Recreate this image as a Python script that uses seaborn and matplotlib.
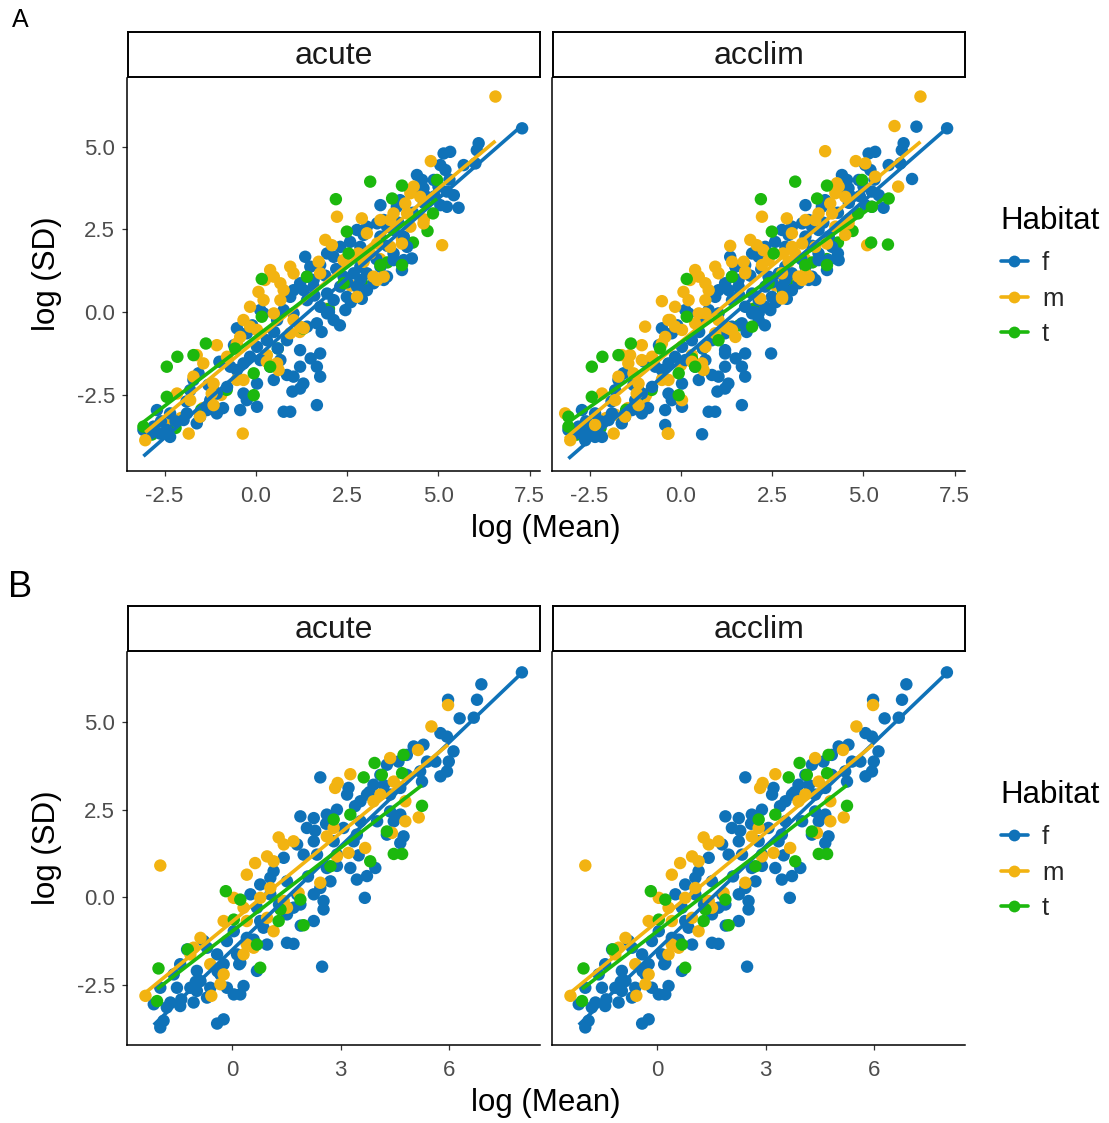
import numpy as np
import pandas as pd
import matplotlib
matplotlib.use("Agg")
import matplotlib.pyplot as plt
from matplotlib.lines import Line2D
import seaborn as sns

# ---------------------------------------------------------------
# Data: (log mean, log SD) pairs per habitat
# ---------------------------------------------------------------
HABITATS = ["f", "m", "t"]
TREATMENTS = ["acute", "acclim"]

# Panel A, acute
a_acute_f = [
    (7.29, 5.55), (6.10, 5.10), (6.05, 4.89), (6.01, 4.49), (5.69, 4.44), (5.32, 4.84),
    (5.14, 4.79), (5.05, 4.44), (5.19, 4.29), (4.41, 4.14), (4.55, 3.99), (4.59, 3.74),
    (5.00, 3.79), (5.23, 3.64), (5.42, 3.53), (5.55, 3.15), (5.05, 3.23), (4.23, 3.69),
    (3.95, 3.38), (3.86, 3.18), (3.41, 3.23), (3.50, 2.78), (3.32, 2.68), (3.59, 2.58),
    (3.04, 2.58), (2.77, 2.48), (2.95, 2.33), (2.58, 2.12), (2.31, 1.97), (2.13, 1.67),
    (1.95, 1.77), (1.76, 1.42), (1.35, 1.67), (1.49, 1.37), (1.21, 0.87), (1.03, 0.66),
    (0.94, 0.46), (1.40, 0.36), (1.58, 0.77), (1.95, 0.56), (2.13, 0.36), (1.76, 0.16),
    (1.95, -0.04), (2.13, -0.24), (1.67, -0.34), (2.45, 0.06), (2.49, 0.46), (2.31, 0.77),
    (2.77, 0.77), (3.04, 0.66), (3.22, 0.87), (3.59, 1.07), (3.41, 1.37), (3.77, 1.57),
    (4.05, 1.57), (4.27, 1.62), (4.00, 1.27), (3.77, 1.77), (2.86, 1.37), (2.68, 1.17),
    (2.40, 1.07), (1.03, -0.04), (0.76, 0.06), (0.58, -0.24), (0.12, 0.06), (0.21, -0.04),
    (-0.52, -0.49), (-0.25, -0.64), (0.30, -0.85), (0.03, -1.05), (-0.16, -1.35),
    (-0.34, -1.55), (-0.52, -1.75), (-0.70, -1.65), (-0.79, -2.26), (-0.34, -2.46),
    (-0.25, -2.66), (0.03, -2.86), (0.03, -2.16), (-0.43, -2.96), (-1.07, -2.46),
    (-1.16, -2.36), (-1.25, -2.66), (-1.07, -3.06), (-1.34, -2.96), (-1.53, -3.16),
    (-1.62, -3.36), (-1.57, -1.85), (-1.71, -2.05), (-1.80, -2.36), (-1.89, -3.06),
    (-1.98, -3.26), (-2.35, -3.77), (-2.44, -3.56), (-2.62, -3.67), (-2.80, -3.46),
    (-2.71, -2.96), (-2.35, -3.06), (-2.89, -3.67), (-3.08, -3.56), (0.76, -3.01),
    (0.94, -3.01), (1.67, -2.81), (1.21, -1.15), (1.76, -1.25), (1.21, -1.65),
    (1.67, -1.65), (1.76, -1.95), (1.30, -2.16), (1.21, -2.31), (0.85, -1.90),
    (1.03, -1.95), (0.67, -1.45), (0.49, -2.05), (0.39, -1.65), (0.12, -1.45),
    (0.85, -0.85), (1.40, -0.44), (1.31, 0.66), (1.40, 1.07), (1.58, 0.97), (2.86, 0.97),
    (3.04, 1.17), (3.50, 0.97), (4.14, 1.97), (4.05, 2.28), (3.77, 2.48), (3.41, 2.28),
    (2.86, 1.97), (4.68, 3.48), (5.23, 3.18), (4.50, 3.69), (4.87, 3.99),
    (1.60, 0.50), (1.90, 1.10), (2.20, 1.30), (2.50, 0.90), (2.60, 0.30), (2.00, 0.00),
    (1.80, -0.60), (2.30, -0.40), (2.90, 0.40), (3.30, 1.60), (3.60, 2.00), (3.90, 2.70),
    (4.30, 3.00), (4.60, 3.30), (4.90, 3.50), (5.30, 4.00), (0.50, -0.60), (0.60, -1.10),
    (-0.10, -0.40), (-0.60, -1.00), (-1.00, -1.50), (-1.30, -2.20), (-1.90, -2.70),
    (-2.20, -3.30), (-2.60, -3.30), (-0.90, -2.90), (1.00, -2.40), (1.50, -1.40),
]
a_acute_m = [
    (6.56, 6.51), (4.79, 4.56), (4.32, 3.79), (4.50, 3.48), (4.59, 2.68), (5.10, 2.02),
    (4.23, 2.58), (4.00, 2.07), (3.68, 1.97), (3.32, 2.07), (3.22, 1.07), (3.32, 0.97),
    (2.77, 0.46), (2.90, 2.83), (2.22, 2.88), (1.90, 2.18), (2.08, 2.02), (1.72, 1.52),
    (0.94, 1.37), (1.03, 1.17), (0.49, 1.07), (0.67, 0.87), (0.76, 0.66), (0.07, 0.61),
    (0.21, 0.36), (-0.16, 0.16), (0.67, 0.36), (0.49, -0.04), (1.03, -0.24), (1.31, -0.49),
    (0.94, -0.64), (-0.34, -0.24), (-0.16, -0.44), (0.03, -0.54), (-0.43, -0.75),
    (-0.52, -0.95), (-1.07, -1.00), (-1.62, -1.30), (-1.44, -1.55), (-0.79, -1.35),
    (-0.52, -2.05), (-0.34, -2.05), (0.58, -1.55), (0.62, -1.75), (0.30, -1.50),
    (-1.71, -1.95), (-1.16, -2.16), (-1.21, -2.46), (-2.16, -2.46), (-1.80, -2.66),
    (-1.16, -2.81), (-1.53, -3.16), (-1.84, -3.67), (-0.36, -3.67), (-3.03, -3.87),
    (2.95, 1.52), (3.13, 1.77), (3.50, 1.07), (2.80, 1.77), (2.40, 1.57), (3.04, 2.38),
    (3.41, 2.78), (3.68, 2.78), (3.77, 2.98), (4.14, 2.98), (4.09, 3.28), (4.23, 3.59),
    (1.76, 1.17), (1.21, -0.44), (0.39, 1.27), (0.25, 0.97),
]
a_acute_t = [
    (3.13, 3.94), (2.19, 3.41), (4.00, 3.82), (3.73, 3.43), (4.96, 3.99), (4.85, 2.98),
    (2.49, 2.43), (2.54, 1.77), (3.41, 1.42), (4.00, 1.42), (2.40, 0.87), (1.40, 1.07),
    (0.16, 1.00), (0.16, -0.14), (-0.57, -1.10), (-1.37, -0.95), (-2.15, -1.35),
    (-2.44, -1.65), (-1.71, -1.30), (-0.06, -1.85), (0.39, -1.65), (-0.06, -2.51),
    (-2.44, -2.56), (-3.08, -3.46),
]
# m and t records lying inside the dense f cloud (mostly covered by f points)
a_acute_m_inner = [
    (-2.75, -3.60), (-2.40, -3.40), (-2.05, -3.20), (-1.45, -2.90), (-0.95, -2.50),
    (-0.50, -2.00), (0.30, -1.30), (1.20, -0.60), (1.90, 0.10), (2.60, 0.80),
    (3.40, 1.60), (4.00, 2.20), (4.60, 2.80),
]
a_acute_t_inner = [
    (-2.85, -3.70), (-2.20, -3.50), (-1.50, -2.95), (-0.80, -2.35), (0.60, -1.10),
    (1.30, -0.50), (2.00, 0.10), (2.90, 0.90), (3.60, 1.50), (4.30, 2.10), (4.70, 2.45),
]

# Panel A, acclim: the acute records plus the acclimation-only records below
a_acclim_only_f = [
    (6.45, 5.60), (6.33, 4.02), (4.30, 1.77), (4.32, 1.57), (3.68, 0.97), (2.47, -1.25),
    (0.58, -3.69), (-0.43, -3.41), (1.21, -0.64), (2.13, -0.04), (2.31, 0.16),
    (1.21, -1.25), (-2.16, -3.77), (-2.62, -3.87),
]
a_acclim_only_m = [
    (5.85, 5.62), (3.95, 4.86), (5.05, 4.49), (5.32, 4.09), (5.95, 3.79), (1.35, 2.00),
    (1.40, 1.52), (1.76, 1.22), (2.22, 1.42), (2.26, 1.87), (3.04, 1.97), (3.41, 1.17),
    (2.77, 1.17), (2.17, 0.41), (2.77, 0.41), (-0.52, 0.33), (-0.98, -0.44),
    (-0.29, -0.24), (0.39, -0.34), (0.67, -0.04), (1.40, -0.54), (1.49, -0.75),
    (0.67, -1.05), (0.58, -1.65), (-1.39, -1.30), (-1.07, -1.45), (-1.30, -1.85),
    (0.03, -2.66), (-0.34, -3.67), (-3.17, -3.06), (-2.35, -3.41), (4.41, 2.58),
    (4.50, 2.33), (4.27, 3.89),
]
a_acclim_only_t = [
    (5.67, 2.04), (5.21, 2.10), (5.69, 3.43), (5.23, 3.18), (-3.08, -3.16),
    (1.95, -0.44), (1.03, -0.85),
]
a_acclim_only_m_inner = [
    (-2.90, -3.70), (-2.50, -3.50), (-1.80, -3.10), (-1.00, -2.60), (0.00, -1.60),
    (1.00, -0.70), (2.00, 0.10), (3.00, 1.00),
]
a_acclim_only_t_inner = [
    (-2.60, -3.50), (-1.20, -2.60), (0.30, -1.40), (1.60, -0.40), (2.80, 0.60),
    (4.00, 1.60),
]

# Panel B (same records under both treatments)
b_f = [
    (8.01, 6.41), (6.89, 6.07), (6.77, 5.63), (6.68, 5.12), (6.29, 5.10), (5.97, 5.63),
    (5.76, 4.68), (5.94, 4.58), (6.12, 4.16), (5.99, 3.87), (5.94, 3.59), (5.76, 3.45),
    (5.62, 3.87), (5.29, 4.35), (5.02, 4.30), (4.83, 4.06), (4.60, 3.87), (5.20, 3.59),
    (5.25, 3.30), (4.83, 3.49), (4.28, 3.78), (4.10, 3.49), (3.91, 3.21), (3.73, 2.93),
    (3.55, 2.74), (3.22, 3.12), (3.18, 2.93), (2.44, 3.42), (4.37, 2.45), (4.65, 2.36),
    (4.47, 2.17), (4.74, 1.74), (4.65, 1.55), (4.28, 1.79), (4.01, 2.17), (3.55, 2.17),
    (3.45, 1.79), (3.36, 1.60), (3.27, 0.84), (3.45, 0.51), (3.73, 0.61), (3.96, 0.84),
    (3.67, -0.01), (2.62, 2.36), (2.26, 2.26), (1.89, 2.31), (2.07, 1.98), (1.80, 1.51),
    (1.98, 1.22), (2.35, 1.22), (2.26, 1.60), (1.43, 1.13), (1.15, 0.75), (1.06, 0.56),
    (0.78, 0.37), (2.62, 0.84), (2.72, 0.46), (2.44, 0.27), (2.26, 0.09), (2.53, -0.10),
    (2.53, -0.34), (2.26, -0.67), (1.89, -0.20), (1.70, -0.29), (1.52, -0.48),
    (1.80, 0.09), (0.51, 0.09), (0.69, -0.29), (0.78, -0.67), (0.87, -0.86),
    (0.97, -1.34), (1.52, -1.29), (1.70, -1.32), (2.49, -1.97), (0.41, -1.15),
    (0.05, -0.96), (-0.14, -1.24), (0.14, -1.62), (0.23, -1.86), (-0.23, -1.90),
    (-0.41, -1.62), (-0.69, -1.43), (-0.78, -1.24), (-1.24, -1.48), (-1.43, -1.90),
    (-0.97, -2.09), (-0.87, -2.38), (-0.60, -2.57), (-0.97, -2.66), (-0.69, -2.85),
    (-0.32, -2.19), (-0.14, -2.57), (0.05, -2.76), (0.23, -2.76), (0.32, -2.52),
    (0.69, -2.09), (-1.06, -2.99), (-1.43, -3.09), (-1.70, -2.99), (-1.98, -2.57),
    (-1.80, -3.13), (-2.16, -3.04), (-1.89, -3.51), (-1.98, -3.70), (-0.41, -3.59),
    (-0.23, -3.47), (-1.52, -2.57), (-1.61, -2.19), (-1.15, -2.57), (5.39, 3.87),
    (3.08, 1.98), (2.81, 1.60), (2.90, 1.22), (1.52, 0.46), (1.06, 0.09), (4.65, 3.12),
    (4.37, 2.93),
    (2.30, 1.90), (2.60, 2.10), (2.90, 2.50), (3.40, 2.60), (3.80, 3.00), (4.20, 3.20),
    (2.10, 0.60), (2.90, 0.90), (3.50, 1.20), (1.30, -0.20), (0.60, -1.20),
    (-0.40, -2.10), (-1.00, -2.40), (-1.40, -2.90), (0.20, -1.90), (1.90, -0.80),
]
b_m = [
    (-1.98, 0.91), (5.97, 5.48), (5.51, 4.87), (5.14, 4.20), (5.16, 2.28), (4.79, 2.17),
    (4.79, 2.74), (4.37, 3.97), (3.27, 3.51), (2.92, 3.26), (2.85, 3.12), (4.10, 2.93),
    (3.91, 2.74), (4.42, 1.84), (3.68, 1.41), (3.22, 1.27), (2.90, 1.17), (2.62, 1.74),
    (2.81, 1.98), (2.44, 0.42), (1.84, 0.13), (1.29, 1.71), (1.43, 1.51), (1.70, 1.60),
    (0.97, 1.17), (0.64, 0.98), (0.41, 0.65), (1.15, 1.03), (1.06, 0.27), (0.78, -0.01),
    (1.52, -0.29), (1.43, -0.10), (0.05, -0.01), (0.32, -0.29), (0.41, -0.67),
    (0.97, -0.58), (1.15, -0.96), (-0.23, -0.67), (0.41, -1.34), (0.60, -1.43),
    (0.32, -1.62), (-0.87, -1.15), (-1.06, -1.43), (-1.15, -1.62), (-0.60, -1.90),
    (-0.23, -2.19), (-0.32, -2.47), (-0.57, -2.80), (-2.39, -2.80), (4.47, 3.30),
]
b_t = [
    (3.94, 3.83), (3.64, 3.42), (4.14, 3.49), (4.74, 4.06), (4.70, 3.54), (5.25, 2.61),
    (4.47, 1.24), (4.70, 1.24), (3.82, 1.03), (2.81, 2.22), (3.27, 2.36), (4.28, 1.88),
    (2.72, 0.89), (1.98, -0.79), (1.29, -0.67), (0.69, -1.34), (0.78, -2.00),
    (0.23, -0.06), (-0.17, 0.18), (0.05, -0.63), (1.34, -0.34), (1.89, -0.06),
    (-1.22, -1.48), (-2.03, -2.02), (-2.07, -2.95),
]

# Axis ticks
a_ticks = [-2.5, 0.0, 2.5, 5.0, 7.5]
a_ticklabels = ["-2.5", "0.0", "2.5", "5.0", "7.5"]
b_xticks = [0, 3, 6]
b_xticklabels = ["0", "3", "6"]
y_ticks = [-2.5, 0.0, 2.5, 5.0]
y_ticklabels = ["-2.5", "0.0", "2.5", "5.0"]

COLORS = {"f": "#0F72B8", "m": "#F2B311", "t": "#1CB80E"}


def make_frame(layers):
    """layers: list of (habitat, points) in drawing order."""
    rows = []
    for hab, pts in layers:
        for mx, sd in pts:
            rows.append({"mean": mx, "sd": sd, "Habitat": hab})
    return pd.DataFrame(rows)


panel_a = {
    "acute": make_frame([
        ("m", a_acute_m_inner), ("t", a_acute_t_inner),
        ("f", a_acute_f), ("m", a_acute_m), ("t", a_acute_t),
    ]),
    "acclim": make_frame([
        ("m", a_acute_m_inner + a_acclim_only_m_inner),
        ("t", a_acute_t_inner + a_acclim_only_t_inner),
        ("f", a_acute_f + a_acclim_only_f),
        ("m", a_acute_m + a_acclim_only_m),
        ("t", a_acute_t + a_acclim_only_t),
    ]),
}
b_frame = make_frame([("f", b_f), ("m", b_m), ("t", b_t)])
panel_b = {"acute": b_frame, "acclim": b_frame}

# ---------------------------------------------------------------
# Figure
# ---------------------------------------------------------------
sns.set_theme(style="ticks")
plt.rcParams["font.family"] = ["Liberation Sans", "DejaVu Sans"]
plt.rcParams["axes.unicode_minus"] = False

W, H = 1109, 1123
fig = plt.figure(figsize=(W / 100, H / 100), dpi=100)


def px_axes(l, t, r, b):
    return fig.add_axes([l / W, 1 - b / H, (r - l) / W, (b - t) / H])


def draw_strip(l, t, r, b, label):
    sax = px_axes(l, t, r, b)
    sax.set_xticks([])
    sax.set_yticks([])
    for sp in sax.spines.values():
        sp.set_visible(True)
        sp.set_linewidth(1.4)
        sp.set_color("black")
    sax.set_facecolor("white")
    sax.text(0.5, 0.47, label, ha="center", va="center", fontsize=23,
             color="#1A1A1A", transform=sax.transAxes)


def draw_panel(ax, df, xlim, ylim, xticks, xticklabels, show_y):
    # points in record order, one colour per habitat
    sns.scatterplot(data=df, x="mean", y="sd", hue="Habitat", palette=COLORS,
                    hue_order=HABITATS, s=80, linewidth=0, ax=ax, legend=False,
                    zorder=2)
    for hab in HABITATS:
        sub = df[df["Habitat"] == hab]
        sns.regplot(data=sub, x="mean", y="sd", scatter=False, ci=None,
                    truncate=True, color=COLORS[hab],
                    line_kws={"lw": 2.6, "zorder": 3, "solid_capstyle": "butt"},
                    ax=ax)
    ax.set_xlim(*xlim)
    ax.set_ylim(*ylim)
    ax.set_xlabel("")
    ax.set_ylabel("")
    for side in ("top", "right"):
        ax.spines[side].set_visible(False)
    for side in ("left", "bottom"):
        ax.spines[side].set_color("black")
        ax.spines[side].set_linewidth(1.1)
    ax.set_xticks(xticks)
    ax.set_xticklabels(xticklabels)
    ax.tick_params(axis="both", length=3.5, width=0.9, color="#333333",
                   labelcolor="#4D4D4D", labelsize=16, pad=5)
    ax.tick_params(axis="x", pad=7)
    if show_y:
        ax.set_yticks(y_ticks)
        ax.set_yticklabels(y_ticklabels)
    else:
        ax.set_yticks([])
    ax.set_facecolor("white")


def draw_legend(top):
    fig.text(1000 / W, 1 - (top + 189) / H, "Habitat", ha="left", va="center",
             fontsize=22.5, color="black")
    handles = [Line2D([0], [0], color=COLORS[h], lw=2.6, marker="o", markersize=8.5,
                      markeredgewidth=0) for h in HABITATS]
    fig.legend(handles=handles, labels=HABITATS, loc="upper left",
               bbox_to_anchor=(1001 / W, 1 - (top + 219) / H),
               frameon=False, fontsize=18.5, handlelength=1.05,
               handletextpad=0.55, labelspacing=0.45,
               borderaxespad=0, borderpad=0)


def draw_row(top, panels, xlim, ylim, xticks, xticklabels):
    strip_top, strip_bot = top, top + 45
    p_top, p_bot = top + 46, top + 439
    lefts = [(127, 540), (552, 965)]
    for i, treat in enumerate(TREATMENTS):
        l, r = lefts[i]
        draw_strip(l + 1, strip_top, r, strip_bot, treat)
        ax = px_axes(l, p_top, r, p_bot)
        draw_panel(ax, panels[treat], xlim, ylim, xticks, xticklabels, show_y=(i == 0))
    fig.text(546 / W, 1 - (p_bot + 58) / H, "log (Mean)", ha="center", va="center",
             fontsize=22.5, color="black")
    fig.text(47 / W, 1 - (p_top + 196) / H, "log (SD)", ha="center", va="center",
             rotation=90, fontsize=22.5, color="black")
    draw_legend(top)


draw_row(32, panel_a, (-3.53, 7.78), (-4.80, 7.07), a_ticks, a_ticklabels)
draw_row(606, panel_b, (-2.90, 8.51), (-4.20, 6.99), b_xticks, b_xticklabels)

fig.text(12 / W, 1 - 8 / H, "A", ha="left", va="top", fontsize=18, color="black")
fig.text(8 / W, 1 - 570 / H, "B", ha="left", va="top", fontsize=26, color="black")

fig.savefig("out.png", dpi=100, facecolor="white")
